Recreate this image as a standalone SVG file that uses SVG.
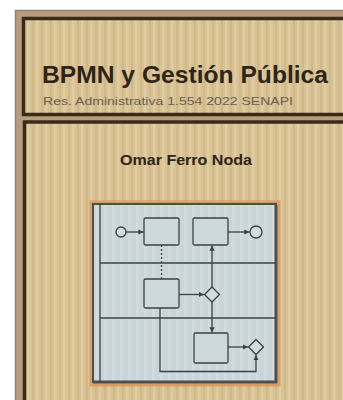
<svg xmlns="http://www.w3.org/2000/svg" width="343" height="400" viewBox="0 0 343 400">
<defs>
<pattern id="wood" width="9" height="20" patternUnits="userSpaceOnUse">
<rect width="9" height="20" fill="#d8c193"/>
<rect x="0" width="2.5" height="20" fill="#dfcca2"/>
<rect x="5" width="2" height="20" fill="#d0b888"/>
</pattern>
<pattern id="paper" width="8" height="20" patternUnits="userSpaceOnUse">
<rect width="8" height="20" fill="#cad5d8"/>
<rect x="0" width="2.5" height="20" fill="#d2dcdf"/>
</pattern>
<marker id="ah" viewBox="0 0 6 6" refX="6" refY="3" markerWidth="4" markerHeight="4" orient="auto">
<path d="M0,0 L6,3 L0,6 z" fill="#3b4044"/>
</marker>
</defs>
<style>
.ln{fill:none;stroke:#3b4044;stroke-width:1.3}
.tk{fill:#cdd8db;stroke:#3b4044;stroke-width:1.3}
.ev{fill:#d2dcdf;stroke:#3b4044;stroke-width:1.3}
.t{font-family:"Liberation Sans",Arial,sans-serif;text-anchor:middle}
</style>
<rect x="0" y="0" width="343" height="400" fill="#ffffff"/>
<g id="cover">
<rect x="15.5" y="10.5" width="340" height="400" fill="#b99c7c" stroke="#8a8580" stroke-width="1.5"/>
<rect x="23.5" y="18.5" width="330" height="96" fill="url(#wood)" stroke="#3a2a1c" stroke-width="3.5"/>
<rect x="24.5" y="122" width="330" height="290" fill="url(#wood)" stroke="#3a2a1c" stroke-width="3.5"/>
</g>
<g id="title">
<text class="t" x="185" y="83" font-size="24.5" font-weight="bold" fill="#2e2418" textLength="286" lengthAdjust="spacingAndGlyphs">BPMN y Gestión Pública</text>
<text class="t" x="168" y="105" font-size="10.5" fill="#6a5f50" textLength="250" lengthAdjust="spacingAndGlyphs">Res. Administrativa 1.554 2022 SENAPI</text>
</g>
<g id="author">
<text class="t" x="186" y="165" font-size="15" font-weight="bold" fill="#2e2418" textLength="132" lengthAdjust="spacingAndGlyphs">Omar Ferro Noda</text>
</g>
<g id="diagram-frame">
<rect x="91" y="202" width="188" height="183" fill="none" stroke="#d9955a" stroke-width="3" opacity="0.8"/>
<rect x="93" y="204" width="183" height="178" fill="url(#paper)" stroke="#4a4f52" stroke-width="2"/>
<line x1="276" y1="205" x2="276" y2="383" stroke="#4a4f52" stroke-width="3"/>
<line x1="93" y1="382" x2="277" y2="382" stroke="#4a4f52" stroke-width="3"/>
<line class="ln" x1="100" y1="204" x2="100" y2="382" stroke-width="1.6"/>
<line class="ln" x1="100" y1="263" x2="276" y2="263" stroke-width="1.6"/>
<line class="ln" x1="100" y1="318" x2="276" y2="318" stroke-width="1.6"/>
</g>
<g id="start"><circle class="ev" cx="121" cy="232" r="5"/></g>
<g id="task1"><rect class="tk" x="144" y="218" width="35" height="27" rx="1.5"/></g>
<g id="task2"><rect class="tk" x="193" y="218" width="35" height="27" rx="1.5"/></g>
<g id="end"><circle class="ev" cx="256" cy="232" r="6"/></g>
<g id="task3"><rect class="tk" x="144" y="279" width="35" height="29" rx="1.5"/></g>
<g id="gateway1"><path class="ev" d="M212,287 L219.5,294.5 L212,302 L204.5,294.5 z"/></g>
<g id="task4"><rect class="tk" x="194" y="333" width="34" height="30" rx="1.5"/></g>
<g id="gateway2"><path class="ev" d="M256,339.5 L263.5,347 L256,354.5 L248.5,347 z" stroke-linejoin="round"/></g>
<g id="connectors">
<line class="ln" x1="126" y1="232" x2="143.5" y2="232" marker-end="url(#ah)"/>
<line class="ln" x1="228" y1="232" x2="249.5" y2="232" marker-end="url(#ah)"/>
<line class="ln" x1="161.5" y1="245" x2="161.5" y2="279" stroke-dasharray="2,2"/>
<line class="ln" x1="179" y1="294.5" x2="204" y2="294.5" marker-end="url(#ah)"/>
<line class="ln" x1="212" y1="287" x2="212" y2="245.5" marker-end="url(#ah)"/>
<line class="ln" x1="212" y1="302" x2="212" y2="332.5" marker-end="url(#ah)"/>
<line class="ln" x1="228" y1="347" x2="248" y2="347" marker-end="url(#ah)"/>
<polyline class="ln" points="160,308 160,371.5 256,371.5 256,355" marker-end="url(#ah)"/>
</g>
</svg>
